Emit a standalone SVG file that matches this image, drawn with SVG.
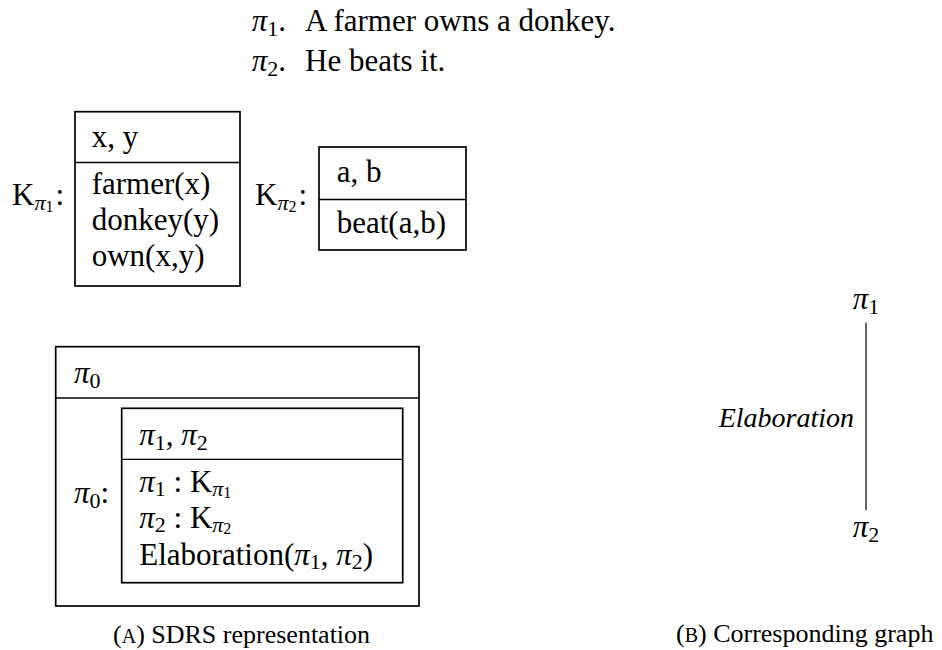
<svg xmlns="http://www.w3.org/2000/svg" width="942" height="650" viewBox="0 0 942 650">
<style>
text { font-family: "Liberation Serif", "Times New Roman", serif; font-size: 31px; fill: #000; }
.pi { font-style: italic; }
.s1 { font-size: 22px; }
.s2 { font-size: 16px; }
.it { font-style: italic; font-size: 28px; }
.cap { font-size: 26px; }
.sc { font-size: 20px; }
.box { fill: none; stroke: #000; stroke-width: 1.7; }
.div { stroke: #000; stroke-width: 1.3; fill: none; }
.edge { stroke: #000; stroke-width: 1.2; fill: none; }
</style>
<rect x="0" y="0" width="942" height="650" fill="#fff"/>

<g id="sentences">
  <text x="251.7" y="31"><tspan class="pi">π</tspan><tspan class="s1" dy="5">1</tspan><tspan dy="-5">.</tspan><tspan x="305">A farmer owns a donkey.</tspan></text>
  <text x="251.7" y="71"><tspan class="pi">π</tspan><tspan class="s1" dy="5">2</tspan><tspan dy="-5">.</tspan><tspan x="305">He beats it.</tspan></text>
</g>

<g id="drs-k-pi1">
  <text x="12" y="205">K<tspan class="pi s1" dy="5">π</tspan><tspan class="s2" dy="2">1</tspan><tspan dy="-7" dx="2">:</tspan></text>
  <rect class="box" x="75" y="111.7" width="165" height="174.3"/>
  <line class="div" x1="75" y1="162.5" x2="240" y2="162.5"/>
  <text x="91.7" y="147">x, y</text>
  <text x="91.7" y="194">farmer(x)</text>
  <text x="91.7" y="230">donkey(y)</text>
  <text x="91.7" y="266">own(x,y)</text>
</g>

<g id="drs-k-pi2">
  <text x="255" y="205">K<tspan class="pi s1" dy="5">π</tspan><tspan class="s2" dy="2">2</tspan><tspan dy="-7" dx="2">:</tspan></text>
  <rect class="box" x="319" y="147" width="147" height="103"/>
  <line class="div" x1="319" y1="199.5" x2="466" y2="199.5"/>
  <text x="336.7" y="182">a, b</text>
  <text x="336.7" y="233">beat(a,b)</text>
</g>

<g id="sdrs">
  <rect class="box" x="55.7" y="346.7" width="363.3" height="259.3"/>
  <line class="div" x1="55.7" y1="398" x2="419" y2="398"/>
  <text x="74" y="383"><tspan class="pi">π</tspan><tspan class="s1" dy="5">0</tspan></text>
  <text x="74" y="503"><tspan class="pi">π</tspan><tspan class="s1" dy="5">0</tspan><tspan dy="-5">:</tspan></text>
  <g id="sdrs-inner">
    <rect class="box" x="121.7" y="408.3" width="281" height="174.4"/>
    <line class="div" x1="121.7" y1="459.3" x2="402.7" y2="459.3"/>
    <text x="139.3" y="445"><tspan class="pi">π</tspan><tspan class="s1" dy="5">1</tspan><tspan dy="-5">, </tspan><tspan class="pi">π</tspan><tspan class="s1" dy="5">2</tspan></text>
    <text x="139.3" y="492"><tspan class="pi">π</tspan><tspan class="s1" dy="4">1</tspan><tspan dy="-4"> : K</tspan><tspan class="pi s1" dy="4">π</tspan><tspan class="s2" dy="2">1</tspan></text>
    <text x="139.3" y="528"><tspan class="pi">π</tspan><tspan class="s1" dy="4">2</tspan><tspan dy="-4"> : K</tspan><tspan class="pi s1" dy="4">π</tspan><tspan class="s2" dy="2">2</tspan></text>
    <text x="139.3" y="565">Elaboration(<tspan class="pi">π</tspan><tspan class="s1" dy="4">1</tspan><tspan dy="-4">, </tspan><tspan class="pi">π</tspan><tspan class="s1" dy="4">2</tspan><tspan dy="-4">)</tspan></text>
  </g>
</g>

<g id="caption-a">
  <text class="cap" x="113" y="643">(<tspan class="sc">A</tspan>) SDRS representation</text>
</g>

<g id="node-pi1">
  <text x="852.7" y="309"><tspan class="pi">π</tspan><tspan class="s1" dy="5">1</tspan></text>
</g>
<g id="node-pi2">
  <text x="852.7" y="537"><tspan class="pi">π</tspan><tspan class="s1" dy="5">2</tspan></text>
</g>
<g id="connectors">
  <line class="edge" x1="866" y1="322.7" x2="866" y2="510"/>
  <text class="it" x="854" y="427" text-anchor="end">Elaboration</text>
</g>

<g id="caption-b">
  <text class="cap" x="676" y="642">(<tspan class="sc">B</tspan>) Corresponding graph</text>
</g>
</svg>
